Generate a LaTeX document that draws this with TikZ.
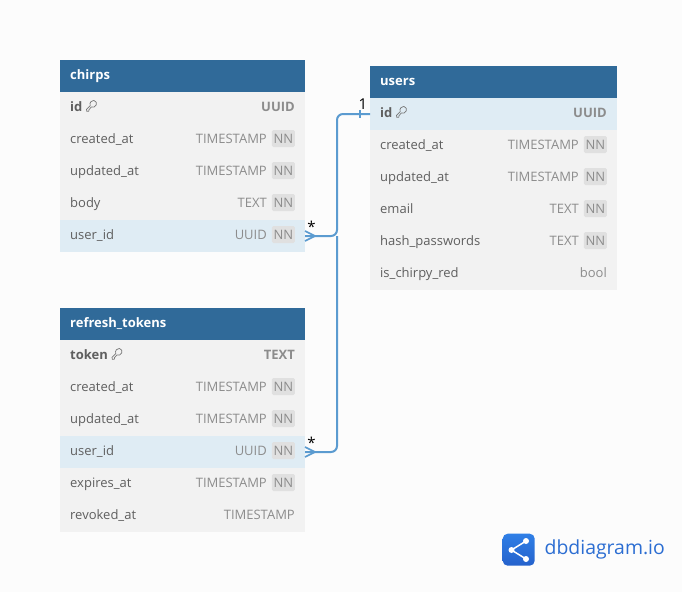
\documentclass[tikz,border=0pt]{standalone}
\usepackage{fontspec}
\setmainfont{Open Sans}
\usetikzlibrary{calc}
\definecolor{pagebg}{HTML}{FCFCFC}
\definecolor{headblue}{HTML}{306A99}
\definecolor{rowgrey}{HTML}{F2F2F2}
\definecolor{rowhi}{HTML}{DFECF4}
\definecolor{labelgrey}{HTML}{5F5F5F}
\definecolor{typegrey}{HTML}{8C8C8C}
\definecolor{nnbox}{HTML}{E0E0E0}
\definecolor{relblue}{HTML}{5B9BD0}
\definecolor{logotop}{HTML}{2F7FE6}
\definecolor{logobot}{HTML}{2562CC}
\definecolor{logotext}{HTML}{2B6DD2}
\tikzset{
  x=1pt,y=-1pt,
  headbox/.style={anchor=north west,fill=headblue,minimum height=32pt,inner sep=0pt,outer sep=0pt},
  rowbox/.style={anchor=north west,fill=rowgrey,minimum height=32pt,inner sep=0pt,outer sep=0pt},
  hibox/.style={rowbox,fill=rowhi},
  headtext/.style={anchor=base west,inner sep=0pt,text=white,font=\fontsize{13}{15}\selectfont\bfseries},
  fieldtext/.style={anchor=base west,inner sep=0pt,text=labelgrey,font=\fontsize{13}{15}\selectfont},
  pktext/.style={fieldtext,font=\fontsize{13}{15}\selectfont\bfseries},
  typetext/.style={anchor=base east,inner sep=0pt,text=typegrey,font=\fontsize{13}{15}\selectfont},
  pktype/.style={typetext,font=\fontsize{13}{15}\selectfont\bfseries},
  nntag/.style={anchor=east,fill=nnbox,rounded corners=1.5pt,minimum width=23pt,minimum height=17pt,inner sep=0pt,text=typegrey,font=\fontsize{13}{15}\selectfont},
  rel/.style={draw=relblue,line width=2pt,rounded corners=6pt},
  relthin/.style={draw=relblue,line width=1.7pt},
  cardtext/.style={inner sep=0pt,text=black,font=\fontsize{15}{17}\selectfont},
  pics/keyicon/.style={code={
    \draw[labelgrey!85,line width=.7pt,line join=round]
      (1.2,11.4) -- (0.9,9.4) -- (4.6,5.6) .. controls (3.6,2.4) and (6.2,0.2) .. (8.2,0.4)
      .. controls (10.6,0.6) and (11.4,3.4) .. (10.6,5)
      .. controls (9.6,7.2) and (7.2,7.8) .. (5.8,7) -- (3.4,9.6) -- (3.2,11.2) -- cycle;
  }}
}
% name, x, y, width, title
\newcommand{\dbhead}[5]{%
  \node[headbox,minimum width=#4pt] (#1) at (#2,#3) {};
  \node[headtext] (#1text) at ($(#2,#3)+(10,19)$) {#5};
}
% name, x, y, width, style, label, type
\newcommand{\dbnn}[7]{%
  \node[#5,minimum width=#4pt] (#1) at (#2,#3) {};
  \node[fieldtext] (#1label) at ($(#2,#3)+(10,19)$) {#6};
  \node[nntag] (#1nn) at ($(#2,#3)+(#4-10,14.5)$) {NN};
  \node[typetext] (#1type) at ($(#2,#3)+(#4-38,19)$) {#7};
}
\newcommand{\dbplain}[7]{%
  \node[#5,minimum width=#4pt] (#1) at (#2,#3) {};
  \node[fieldtext] (#1label) at ($(#2,#3)+(10,19)$) {#6};
  \node[typetext] (#1type) at ($(#2,#3)+(#4-10,19)$) {#7};
}
\newcommand{\dbpk}[7]{%
  \node[#5,minimum width=#4pt] (#1) at (#2,#3) {};
  \node[pktext] (#1label) at ($(#2,#3)+(10,19)$) {#6};
  \node[pktype] (#1type) at ($(#2,#3)+(#4-10,19)$) {#7};
  \path ($(#1label.base east)+(3,-11)$) pic {keyicon};
}
\begin{document}
\begin{tikzpicture}
\useasboundingbox (0,0) rectangle (682,592);
\fill[pagebg] (0,0) rectangle (682,592);

% chirps
\dbhead{chirps}{60}{60}{245}{chirps}
\dbpk{chirpsid}{60}{92}{245}{rowbox}{id}{UUID}
\dbnn{chirpscreated}{60}{124}{245}{rowbox}{created\_at}{TIMESTAMP}
\dbnn{chirpsupdated}{60}{156}{245}{rowbox}{updated\_at}{TIMESTAMP}
\dbnn{chirpsbody}{60}{188}{245}{rowbox}{body}{TEXT}
\dbnn{chirpsuser}{60}{220}{245}{hibox}{user\_id}{UUID}

% users
\dbhead{users}{370}{66}{247}{users}
\dbpk{usersid}{370}{98}{247}{hibox}{id}{UUID}
\dbnn{userscreated}{370}{130}{247}{rowbox}{created\_at}{TIMESTAMP}
\dbnn{usersupdated}{370}{162}{247}{rowbox}{updated\_at}{TIMESTAMP}
\dbnn{usersemail}{370}{194}{247}{rowbox}{email}{TEXT}
\dbnn{usershash}{370}{226}{247}{rowbox}{hash\_passwords}{TEXT}
\dbplain{usersred}{370}{258}{247}{rowbox}{is\_chirpy\_red}{bool}

% refresh_tokens
\dbhead{tokens}{60}{308}{245}{refresh\_tokens}
\dbpk{tokensid}{60}{340}{245}{rowbox}{token}{TEXT}
\dbnn{tokenscreated}{60}{372}{245}{rowbox}{created\_at}{TIMESTAMP}
\dbnn{tokensupdated}{60}{404}{245}{rowbox}{updated\_at}{TIMESTAMP}
\dbnn{tokensuser}{60}{436}{245}{hibox}{user\_id}{UUID}
\dbnn{tokensexpires}{60}{468}{245}{rowbox}{expires\_at}{TIMESTAMP}
\dbplain{tokensrevoked}{60}{500}{245}{rowbox}{revoked\_at}{TIMESTAMP}

% connectors
\coordinate (trunk) at (337,236);
\draw[rel] (chirpsuser.east) -- (trunk) |- (usersid.west);
\draw[rel] (tokensuser.east) -| (trunk);
% crow's feet and one-tick
\draw[relthin] (chirpsuser.east) ++(0,-5) -- ++(10,5) -- ++(-10,5);
\draw[relthin] (tokensuser.east) ++(0,-5) -- ++(10,5) -- ++(-10,5);
\draw[relthin,line width=1.5pt] ($(usersid.west)+(-10,-4)$) -- ++(0,8);
% cardinalities
\node[cardtext] (cardone) at (363,104) {1};
\node[cardtext] (cardmanya) at (311.5,226.5) {*};
\node[cardtext] (cardmanyb) at (311.5,442.5) {*};

% logo
\node[anchor=north west,minimum width=32pt,minimum height=32pt,inner sep=0pt,rounded corners=5pt,top color=logotop,bottom color=logobot] (logo) at (502.5,533.5) {};
\draw[white,line width=1.5pt] (526,541) -- (511.5,550) -- (526,559);
\fill[white] (511.5,550) circle (3pt);
\fill[white] (526,541) circle (3pt);
\fill[white] (526,559) circle (3pt);
\node[anchor=west,inner sep=0pt,text=logotext,font=\fontsize{19.4}{24}\selectfont] (logotext) at (544.5,549.5) {dbdiagram.io};
\end{tikzpicture}
\end{document}
